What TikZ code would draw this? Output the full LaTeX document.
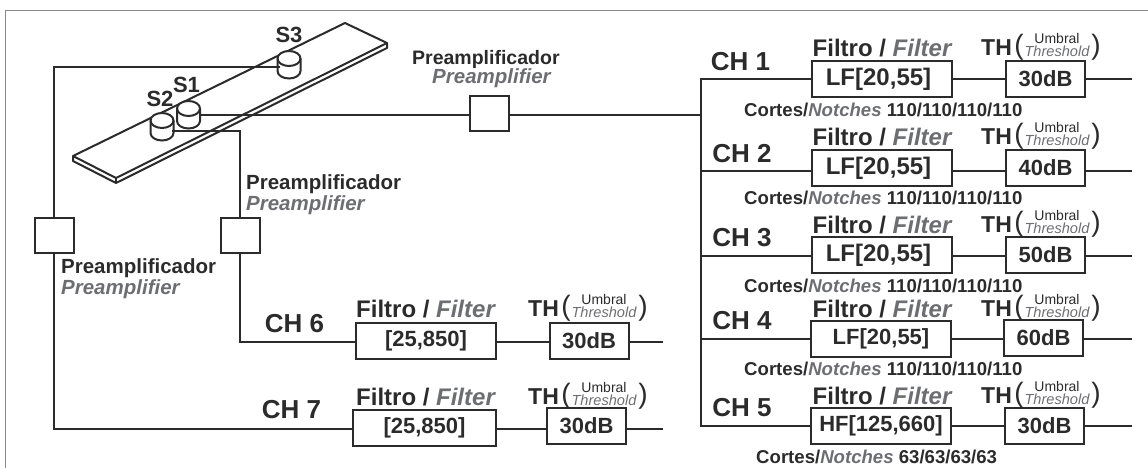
\documentclass[tikz,border=0pt]{standalone}
\usepackage{fontspec}
\setmainfont{Liberation Sans}
\definecolor{ink}{HTML}{2B2B2B}
\definecolor{soft}{HTML}{6D6E71}
\definecolor{rim}{HTML}{8A8A8A}
\newcommand{\fs}[1]{\fontsize{#1}{#1}\selectfont}
\tikzset{
  wire/.style={draw=ink,line width=2pt},
  fbox/.style={draw=ink,line width=2pt,minimum width=140pt,minimum height=36pt,inner sep=0pt,text=ink,font=\fs{24}\bfseries},
  tbox/.style={draw=ink,line width=2pt,minimum width=79pt,minimum height=36pt,inner sep=0pt,text=ink,font=\fs{22}\bfseries},
  amp/.style={draw=ink,line width=2pt,minimum width=39pt,minimum height=35pt,inner sep=0pt},
  chl/.style={text=ink,inner sep=0pt,font=\fs{26}\bfseries},
  lab/.style={text=ink,inner sep=0pt,anchor=west,font=\fs{20.5}\bfseries},
  labi/.style={text=soft,inner sep=0pt,anchor=west,font=\fs{20.5}\bfseries\itshape},
  note/.style={text=ink,inner sep=0pt,anchor=west,font=\fs{18.6}\bfseries},
  sens/.style={text=ink,inner sep=0pt,font=\fs{22}\bfseries},
}
\newcommand{\FL}[2]{\node[text=ink,inner sep=0pt,font=\fs{24}\bfseries] (#1) at (#2) {Filtro / \textcolor{soft}{\itshape Filter}};}
\newcommand{\THL}[2]{\node[text=ink,inner sep=0pt,anchor=west,font=\fs{23}\bfseries] (#1) at (#2) {TH};
  \node[text=ink,inner sep=0pt,font=\fs{28}] (#1a) at ([xshift=38pt,yshift=1pt]#1.west) {(};
  \node[text=ink,inner sep=0pt,font=\fs{28}] (#1b) at ([xshift=115pt,yshift=1pt]#1.west) {)};
  \node[text=ink,inner sep=0pt,font=\fs{14}] (#1c) at ([xshift=76pt,yshift=10pt]#1.west) {Umbral};
  \node[text=soft,inner sep=0pt,font=\fs{14.6}\itshape] (#1d) at ([xshift=76pt,yshift=-3pt]#1.west) {Threshold};}
\newcommand{\NT}[3]{\node[note] (#1) at (#2) {Cortes/\textcolor{soft}{\itshape Notches} #3};}
\begin{document}
\begin{tikzpicture}[x=1pt,y=-1pt]
\useasboundingbox (0,0) rectangle (1148,468);
\draw[rim,line width=1pt] (5,468) -- (5,11) -- (1148,11);
% bar
\draw[ink,line width=2pt,line join=round] (345,23) -- (387,43) -- (116,178) -- (73,156) -- cycle;
\draw[ink,line width=2pt,line join=round] (73,156) -- (73,161) -- (116,183) -- (387,48) -- (387,43);
\draw[ink,line width=2pt] (116,178) -- (116,183);
% sensors
\foreach \n/\cx/\cy in {s3/289/58.5,s1/188.5/108.5,s2/162/120.5}{
  \filldraw[draw=ink,fill=white,line width=2pt] (\cx-11.5,\cy) -- (\cx-11.5,\cy+12.5) arc[start angle=180,end angle=0,x radius=11.5,y radius=7.5] -- (\cx+11.5,\cy) arc[start angle=0,end angle=-180,x radius=11.5,y radius=7.5] -- cycle;
  \draw[ink,line width=2pt] (\cx-11.5,\cy) arc[start angle=180,end angle=0,x radius=11.5,y radius=7.5];
  \coordinate (\n) at (\cx,\cy+7);
}
\node[sens] (ls3) at (289,35) {S3};
\node[sens] (ls1) at (186.5,85) {S1};
\node[sens] (ls2) at (160,99) {S2};
% preamps
\node[amp] (pa) at (489,113.5) {};
\node[amp] (pb) at (240,235.5) {};
\node[amp] (pc) at (54,235) {};
\coordinate (sa) at (200,115);
\coordinate (sb) at (172,131);
\coordinate (sc) at (280,67);
\node[lab,font=\fs{19.5}\bfseries] at (412,59) (la1) {Preamplificador};
\node[labi] at (432,78) (la2) {Preamplifier};
\node[lab] at (246,184) (lb1) {Preamplificador};
\node[labi] at (246,205) (lb2) {Preamplifier};
\node[lab] at (61,268) (lc1) {Preamplificador};
\node[labi] at (61,289) (lc2) {Preamplifier};
% right channels
\foreach \i/\lx/\ly/\fx/\fy/\tx/\ty/\ll/\tv/\ft in {
 1/740.5/62/882/79/1045.5/79/79/30dB/\kern-7pt LF[20{,}55],
 2/742/154/882/168/1045.5/168/171/40dB/\kern-7pt LF[20{,}55],
 3/742/238/882/255/1045.5/255/256/50dB/\kern-7pt LF[20{,}55],
 4/742/321/881/339/1043.5/337.5/339/60dB/\fs{22}LF[20{,}55],
 5/742/408/881/426/1044.5/426/426/30dB/\fs{22}HF[125{,}660]}{
  \coordinate (c\i) at (701,\ll);
  \node[chl] (ch\i) at (\lx,\ly) {CH \i};
  \node[fbox] (f\i) at (\fx,\fy) {\ft};
  \node[tbox] (t\i) at (\tx,\ty) {\tv};
  \coordinate (e\i) at (1132,\ll);
  \draw[wire] (c\i) -- (f\i.west|-c\i);
  \draw[wire] (f\i.east|-c\i) -- (t\i.west|-c\i);
  \draw[wire] (t\i.east|-c\i) -- (e\i);
}
\draw[wire,line cap=rect] (c1) -- (c5);
\coordinate (j) at (701,115);
\FL{fl1}{882,48} \THL{tl1}{981,48}
\FL{fl2}{882,137} \THL{tl2}{981,137}
\FL{fl3}{882,225} \THL{tl3}{981,225}
\FL{fl4}{882,309} \THL{tl4}{981,309}
\FL{fl5}{882,396} \THL{tl5}{981,396}
\NT{n1}{744,110}{110/110/110/110}
\NT{n2}{744,198}{110/110/110/110}
\NT{n3}{744,286}{110/110/110/110}
\NT{n4}{744,369}{110/110/110/110}
\NT{n5}{756,457}{63/63/63/63}
% left channels
\node[fbox,font=\fs{22}\bfseries] (f6) at (426,341) {[25,850]};
\node[tbox] (t6) at (589,341) {30dB};
\node[fbox,minimum width=143pt,font=\fs{22}\bfseries] (f7) at (424.5,428) {[25,850]};
\node[tbox] (t7) at (586.5,426) {30dB};
\node[chl] (ch6) at (294.5,324) {CH 6};
\node[chl] (ch7) at (291.5,410) {CH 7};
\coordinate (k6) at (240,342);
\coordinate (k7) at (54,429);
\coordinate (e6) at (663,342);
\coordinate (e7) at (663,429);
\FL{fl6}{425.5,309} \THL{tl6}{528,309}
\FL{fl7}{425.5,397} \THL{tl7}{528,397}
\draw[wire] (f6.east|-k6) -- (t6.west|-k6) (t6.east|-k6) -- (e6);
\draw[wire] (f7.east|-k7) -- (t7.west|-k7) (t7.east|-k7) -- (e7);
% feeds
\draw[wire] (sa) -- (pa.west|-sa) (pa.east|-sa) -- (j);
\draw[wire] (sb) -| (pb.north);
\draw[wire] (pb.south) -- (k6) -- (f6.west|-k6);
\draw[wire] (sc) -| (pc.north);
\draw[wire] (pc.south) -- (k7) -- (f7.west|-k7);
\end{tikzpicture}
\end{document}
